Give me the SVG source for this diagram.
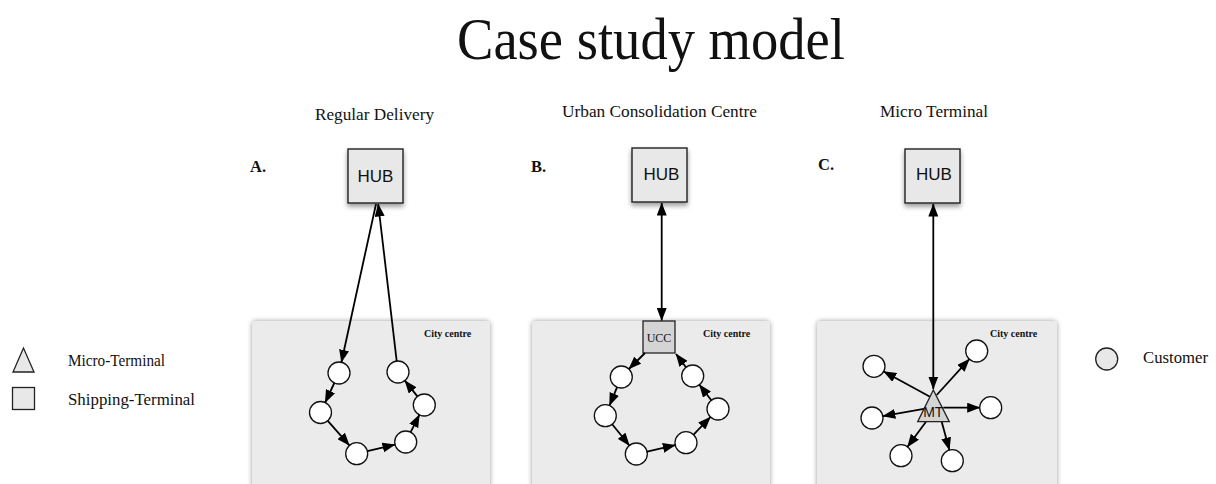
<svg xmlns="http://www.w3.org/2000/svg" width="1216" height="484" viewBox="0 0 1216 484">
<style>
.serif{font-family:"Liberation Serif","Times New Roman",serif;fill:#111}
.sans{font-family:"Liberation Sans",Arial,sans-serif;fill:#111}
.panel{fill:#ebebeb;stroke:none}
.hub{fill:#e8e8e8;stroke:#222;stroke-width:1.4}
.cust{fill:#fff;stroke:#111;stroke-width:1.3}
.lg{fill:#e8e8e8;stroke:#222;stroke-width:1.3}
.ln{stroke:#000;stroke-width:1.8;fill:none}
.city{font-family:"Liberation Serif","Times New Roman",serif;font-weight:bold;font-size:10px;fill:#111}
.lbl{font-family:"Liberation Serif","Times New Roman",serif;font-weight:bold;font-size:16.5px;fill:#111}
</style>
<defs>
<marker id="ah" viewBox="0 0 13 10" refX="12.5" refY="5" markerWidth="13" markerHeight="10" markerUnits="userSpaceOnUse" orient="auto-start-reverse">
<path d="M0,0 L13,5 L0,10 z" fill="#000"/>
</marker>
<filter id="sh" x="-20%" y="-20%" width="140%" height="150%">
<feDropShadow dx="0" dy="3" stdDeviation="2.5" flood-color="#000" flood-opacity="0.4"/>
</filter>
<filter id="psh" x="-5%" y="-5%" width="110%" height="110%">
<feDropShadow dx="0" dy="0" stdDeviation="2.5" flood-color="#000" flood-opacity="0.4"/>
</filter>
</defs>
<rect width="1216" height="484" fill="#fff"/>

<g id="title">
<text class="serif" x="457" y="59" font-size="60" textLength="388" lengthAdjust="spacingAndGlyphs">Case study model</text>
</g>

<g id="subtitles">
<text class="serif" x="315" y="120" font-size="17" textLength="119" lengthAdjust="spacingAndGlyphs">Regular Delivery</text>
<text class="serif" x="562" y="117" font-size="17" textLength="195" lengthAdjust="spacingAndGlyphs">Urban Consolidation Centre</text>
<text class="serif" x="880" y="117" font-size="17" textLength="108" lengthAdjust="spacingAndGlyphs">Micro Terminal</text>
<text class="lbl" x="250" y="172">A.</text>
<text class="lbl" x="531" y="172">B.</text>
<text class="lbl" x="818" y="170">C.</text>
</g>

<g id="panels">
<rect id="panel-a" class="panel" x="252" y="321" width="238" height="175" rx="4" filter="url(#psh)"/>
<rect id="panel-b" class="panel" x="532" y="321" width="238" height="175" rx="4" filter="url(#psh)"/>
<rect id="panel-c" class="panel" x="817" y="321" width="240" height="175" rx="4" filter="url(#psh)"/>
<text class="city" x="424" y="337">City centre</text>
<text class="city" x="703" y="337">City centre</text>
<text class="city" x="990" y="337">City centre</text>
</g>

<g id="hub-a">
<rect class="hub" x="348" y="149" width="55" height="54" filter="url(#sh)"/>
<text class="sans" x="375.5" y="182" font-size="17" text-anchor="middle">HUB</text>
</g>
<g id="hub-b">
<rect class="hub" x="632" y="148" width="55" height="54" filter="url(#sh)"/>
<text class="sans" x="661.5" y="180" font-size="17" text-anchor="middle">HUB</text>
</g>
<g id="hub-c">
<rect class="hub" x="905" y="149" width="55" height="54" filter="url(#sh)"/>
<text class="sans" x="934" y="180" font-size="17" text-anchor="middle">HUB</text>
</g>

<g id="ucc">
<rect x="643" y="321" width="32" height="32" fill="#d4d4d4" stroke="#222" stroke-width="1.3"/>
<text class="serif" x="659" y="342" font-size="12" text-anchor="middle">UCC</text>
</g>

<g id="customers-a">
<circle class="cust" cx="339" cy="373" r="11"/>
<circle class="cust" cx="320.5" cy="412.5" r="11"/>
<circle class="cust" cx="356.7" cy="453.7" r="11"/>
<circle class="cust" cx="405.7" cy="442" r="11"/>
<circle class="cust" cx="424.3" cy="405" r="11"/>
<circle class="cust" cx="398" cy="372" r="11"/>
</g>
<g id="customers-b">
<circle class="cust" cx="621.3" cy="377" r="11"/>
<circle class="cust" cx="605.3" cy="415.7" r="11"/>
<circle class="cust" cx="636.3" cy="454" r="11"/>
<circle class="cust" cx="686" cy="442.7" r="11"/>
<circle class="cust" cx="718" cy="409" r="11"/>
<circle class="cust" cx="692.7" cy="376" r="11"/>
</g>
<g id="customers-c">
<circle class="cust" cx="874" cy="366.3" r="11"/>
<circle class="cust" cx="976.7" cy="351" r="11"/>
<circle class="cust" cx="872" cy="418" r="11"/>
<circle class="cust" cx="990.7" cy="407.7" r="11"/>
<circle class="cust" cx="901" cy="455.7" r="11"/>
<circle class="cust" cx="952.3" cy="460.7" r="11"/>
</g>

<g id="connectors">
<line class="ln" x1="376" y1="204" x2="341.4" y2="362.3" marker-end="url(#ah)"/>
<line class="ln" x1="396.7" y1="361.1" x2="378.2" y2="204" marker-end="url(#ah)"/>
<line class="ln" x1="334.3" y1="383" x2="325.2" y2="402.5" marker-end="url(#ah)"/>
<line class="ln" x1="327.8" y1="420.8" x2="349.4" y2="445.4" marker-end="url(#ah)"/>
<line class="ln" x1="367.4" y1="451.1" x2="395" y2="444.6" marker-end="url(#ah)"/>
<line class="ln" x1="410.6" y1="432.2" x2="419.4" y2="414.8" marker-end="url(#ah)"/>
<line class="ln" x1="417.4" y1="396.4" x2="404.9" y2="380.6" marker-end="url(#ah)"/>

<line class="ln" x1="661.7" y1="203" x2="661.7" y2="320.5" marker-start="url(#ah)" marker-end="url(#ah)"/>
<line class="ln" x1="645" y1="353" x2="628.9" y2="369" marker-end="url(#ah)"/>
<line class="ln" x1="617.1" y1="387.2" x2="609.5" y2="405.5" marker-end="url(#ah)"/>
<line class="ln" x1="612.2" y1="424.2" x2="629.4" y2="445.5" marker-end="url(#ah)"/>
<line class="ln" x1="647" y1="451.6" x2="675.3" y2="445.1" marker-end="url(#ah)"/>
<line class="ln" x1="693.6" y1="434.7" x2="710.4" y2="417" marker-end="url(#ah)"/>
<line class="ln" x1="711.3" y1="400.3" x2="699.4" y2="384.7" marker-end="url(#ah)"/>
<line class="ln" x1="686" y1="367.2" x2="676" y2="354" marker-end="url(#ah)"/>

<line class="ln" x1="933.3" y1="204" x2="933.3" y2="389" marker-start="url(#ah)" marker-end="url(#ah)"/>
<line class="ln" x1="930" y1="396.7" x2="883.7" y2="371.5" marker-end="url(#ah)"/>
<line class="ln" x1="936.7" y1="395" x2="969.3" y2="359.1" marker-end="url(#ah)"/>
<line class="ln" x1="926.7" y1="408.3" x2="882.8" y2="416.1" marker-end="url(#ah)"/>
<line class="ln" x1="943.3" y1="407.7" x2="979.7" y2="407.7" marker-end="url(#ah)"/>
<line class="ln" x1="926" y1="421.7" x2="907.5" y2="446.8" marker-end="url(#ah)"/>
<line class="ln" x1="941.7" y1="421.7" x2="949.4" y2="450.1" marker-end="url(#ah)"/>
</g>

<g id="mt">
<polygon points="933.3,390 917.7,421.7 949.3,421.7" fill="#d4d4d4" stroke="#222" stroke-width="1.3"/>
<text class="sans" x="933.3" y="417" font-size="14" text-anchor="middle">MT</text>
</g>

<g id="legend">
<polygon class="lg" points="23.5,348 13,372 34,372"/>
<text class="serif" x="68" y="366" font-size="16" textLength="97" lengthAdjust="spacingAndGlyphs">Micro-Terminal</text>
<rect class="lg" x="12.5" y="387.5" width="22" height="22"/>
<text class="serif" x="68" y="405" font-size="16" textLength="127" lengthAdjust="spacingAndGlyphs">Shipping-Terminal</text>
<circle class="lg" cx="1106.7" cy="359" r="11"/>
<text class="serif" x="1143" y="363" font-size="16.5" textLength="65" lengthAdjust="spacingAndGlyphs">Customer</text>
</g>
</svg>
